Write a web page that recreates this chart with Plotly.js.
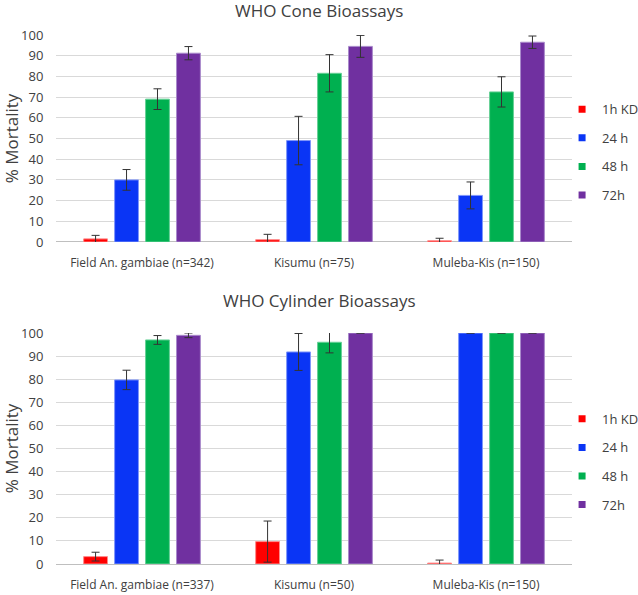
<!DOCTYPE html>
<html>
<head>
<meta charset="utf-8">
<script src="https://cdn.plot.ly/plotly-3.0.1.min.js"></script>
<style>html,body{margin:0;padding:0;background:#fff;}#chart{width:638px;height:595px;}</style>
</head>
<body>
<div id="chart"></div>
<script>
// Categories
const categoriesCone = ['Field An. gambiae (n=342)', 'Kisumu (n=75)', 'Muleba-Kis (n=150)'];
const categoriesCyl = ['Field An. gambiae (n=337)', 'Kisumu (n=50)', 'Muleba-Kis (n=150)'];
const seriesNames = ['1h KD', '24 h', '48 h', '72h'];
const yTickVals = [0, 10, 20, 30, 40, 50, 60, 70, 80, 90, 100];

// WHO Cone Bioassays (% mortality and error)
const cone1h = [1.5, 1.1, 0.6];
const cone1hErr = [1.7, 2.6, 1.2];
const cone24h = [30, 49, 22.5];
const cone24hErr = [5, 11.7, 6.5];
const cone48h = [69, 81.5, 72.5];
const cone48hErr = [5, 9, 7.3];
const cone72h = [91.2, 94.5, 96.5];
const cone72hErr = [3.2, 5.3, 3];

// WHO Cylinder Bioassays (% mortality and error)
const cyl1h = [3.2, 9.7, 0.4];
const cyl1hErr = [1.9, 8.9, 1.3];
const cyl24h = [79.7, 91.8, 100];
const cyl24hErr = [4.2, 8, 0];
const cyl48h = [97, 96, 100];
const cyl48hErr = [1.9, 4.6, 0];
const cyl72h = [99, 100, 100];
const cyl72hErr = [1, 0, 0];

const fillColors = ['#FF0000', '#0A35F5', '#00B050', '#7030A0'];
const lineColors = ['#FF8A8A', '#7F96FA', '#66D096', '#A98ACB'];

const coneVals = [cone1h, cone24h, cone48h, cone72h];
const coneErrs = [cone1hErr, cone24hErr, cone48hErr, cone72hErr];
const cylVals = [cyl1h, cyl24h, cyl48h, cyl72h];
const cylErrs = [cyl1hErr, cyl24hErr, cyl48hErr, cyl72hErr];

const traces = [];
function addSet(cats, vals, errs, xa, ya, leg, grpPrefix) {
  for (let i = 0; i < 4; i++) {
    traces.push({
      type: 'bar', x: cats, y: vals[i], name: seriesNames[i],
      xaxis: xa, yaxis: ya, showlegend: false, legendgroup: grpPrefix + i,
      marker: {color: fillColors[i], line: {color: lineColors[i], width: 1}},
      error_y: {type: 'data', array: errs[i], visible: true, color: '#333333', thickness: 1, width: 4},
      cliponaxis: false, hoverinfo: 'y'
    });
  }
  // legend entries with small square keys
  for (let i = 0; i < 4; i++) {
    traces.push({
      type: 'scatter', mode: 'markers', x: [null], y: [null], name: seriesNames[i],
      xaxis: xa, yaxis: ya, legend: leg, legendgroup: grpPrefix + i, showlegend: true,
      marker: {symbol: 'square', size: 7, color: fillColors[i]}, hoverinfo: 'skip'
    });
  }
}
addSet(categoriesCone, coneVals, coneErrs, 'x', 'y', 'legend', 'a');
addSet(categoriesCyl, cylVals, cylErrs, 'x2', 'y2', 'legend2', 'b');

const font = {family: 'Open Sans, sans-serif', color: '#404040'};
const xBase = {
  type: 'category', domain: [0.0878, 0.8966], showgrid: false, zeroline: false,
  showline: false, ticks: 'outside', ticklen: 10, tickcolor: 'rgba(0,0,0,0)',
  tickfont: {family: font.family, size: 12, color: '#404040'}, fixedrange: true
};
const yBase = {
  range: [0, 100], tickvals: yTickVals, showgrid: true, gridcolor: '#D9D9D9', gridwidth: 1,
  zeroline: true, zerolinecolor: '#BFBFBF', zerolinewidth: 1, showline: false,
  tickfont: {family: font.family, size: 13, color: '#404040'},
  ticks: 'outside', ticklen: 9, tickcolor: 'rgba(0,0,0,0)', fixedrange: true
};
const legBase = {
  xanchor: 'left', yanchor: 'top', x: 0.881, traceorder: 'grouped', tracegroupgap: 8.7,
  font: {family: font.family, size: 13, color: '#404040'}, bgcolor: 'rgba(0,0,0,0)', itemwidth: 30
};
const yTitle = {text: '% Mortality', font: {family: font.family, size: 17, color: '#404040'}, standoff: 4};

const layout = {
  width: 638, height: 595,
  margin: {l: 0, r: 0, t: 0, b: 0, autoexpand: false},
  paper_bgcolor: '#FFFFFF', plot_bgcolor: '#FFFFFF',
  font: font,
  barmode: 'group', bargap: 0.28, bargroupgap: 0.23,
  showlegend: true,
  xaxis: Object.assign({}, xBase, {anchor: 'y'}),
  yaxis: Object.assign({}, yBase, {domain: [0.5933, 0.9412], anchor: 'x', title: yTitle}),
  xaxis2: Object.assign({}, xBase, {anchor: 'y2'}),
  yaxis2: Object.assign({}, yBase, {domain: [0.0521, 0.4403], anchor: 'x2', title: yTitle}),
  legend: Object.assign({}, legBase, {y: 0.8416}),
  legend2: Object.assign({}, legBase, {y: 0.3213}),
  annotations: [
    {text: 'WHO Cone Bioassays', xref: 'paper', yref: 'paper', x: 0.5, y: 1 - 10.5 / 595,
     xanchor: 'center', yanchor: 'middle', showarrow: false,
     font: {family: font.family, size: 17, color: '#404040'}},
    {text: 'WHO Cylinder Bioassays', xref: 'paper', yref: 'paper', x: 0.5, y: 1 - 300 / 595,
     xanchor: 'center', yanchor: 'middle', showarrow: false,
     font: {family: font.family, size: 17, color: '#404040'}}
  ]
};

Plotly.newPlot('chart', traces, layout, {displayModeBar: false, staticPlot: true});
</script>
</body>
</html>
